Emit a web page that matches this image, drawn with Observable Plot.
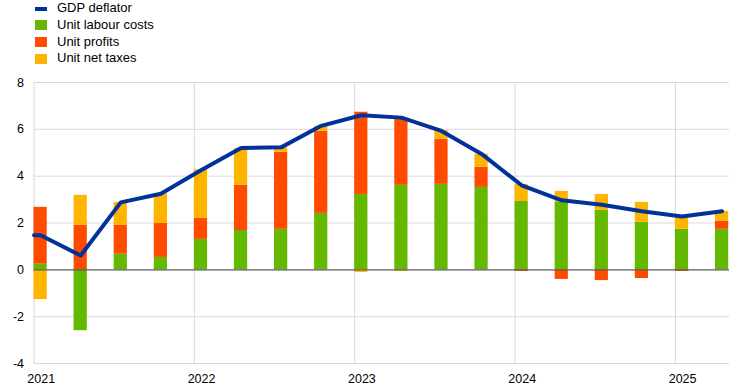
<!DOCTYPE html>
<html>
<head>
<meta charset="utf-8">
<script src="https://cdn.jsdelivr.net/npm/d3@7"></script>
<script src="https://cdn.jsdelivr.net/npm/@observablehq/plot@0.6"></script>
<style>
  body { margin: 0; background: #fff; font-family: "Liberation Sans", Arial, sans-serif; }
  #legend { height: 70px; position: relative; font-size: 13px; color: #000; }
  .item { position: absolute; left: 0; height: 16.7px; line-height: 16.7px; white-space: nowrap; }
  .sw { position: absolute; left: 35px; width: 12px; }
  .lbl { position: absolute; left: 57px; }
  #chart svg { display: block; }
</style>
</head>
<body>
<div id="legend"></div>
<div id="chart"></div>
<script>
const quarters = ["2021Q1","2021Q2","2021Q3","2021Q4","2022Q1","2022Q2","2022Q3","2022Q4",
  "2023Q1","2023Q2","2023Q3","2023Q4","2024Q1","2024Q2","2024Q3","2024Q4","2025Q1","2025Q2"];
const yearLabels = ["2021","2022","2023","2024","2025"];
const seriesNames = ["GDP deflator","Unit labour costs","Unit profits","Unit net taxes"];
const colors = ["#003299","#65b800","#ff4b00","#ffb400"];

const gdpDeflator = [1.48,0.61,2.88,3.25,4.25,5.2,5.23,6.15,6.6,6.5,5.93,4.95,3.61,2.97,2.78,2.5,2.28,2.5];
const unitLabourCosts = [0.24,-2.6,0.67,0.53,1.3,1.68,1.73,2.41,3.22,3.61,3.65,3.52,2.92,2.9,2.54,2.03,1.73,1.73];
const unitProfits = [2.43,1.9,1.23,1.45,0.9,1.93,3.29,3.51,3.51,2.81,1.93,0.86,-0.07,-0.41,-0.46,-0.37,-0.07,0.34];
const unitNetTaxes = [-1.27,1.28,0.98,1.27,2.07,1.57,0.18,0.21,-0.11,-0.07,0.37,0.56,0.73,0.45,0.68,0.85,0.55,0.43];

// legend
const legend = document.getElementById("legend");
seriesNames.forEach((name, i) => {
  const it = document.createElement("div");
  it.className = "item";
  it.style.top = (0.3 + i * 16.7) + "px";
  const sw = document.createElement("div");
  sw.className = "sw";
  const h = i === 0 ? 4 : 10;
  sw.style.height = h + "px";
  sw.style.top = ((16.7 - h) / 2) + "px";
  sw.style.background = colors[i];
  const lb = document.createElement("div");
  lb.className = "lbl";
  lb.textContent = name;
  it.appendChild(sw); it.appendChild(lb);
  legend.appendChild(it);
});

// table
const bars = [];
quarters.forEach((q, i) => {
  bars.push({t: i, series: seriesNames[1], value: unitLabourCosts[i]});
  bars.push({t: i, series: seriesNames[2], value: unitProfits[i]});
  bars.push({t: i, series: seriesNames[3], value: unitNetTaxes[i]});
});
// line starts at the left edge of the first quarter, then runs through quarter mid-points
const linePts = [{t: 0, value: gdpDeflator[0]}].concat(gdpDeflator.map((v, i) => ({t: i + 0.165, value: v})));
const yearPos = yearLabels.map((y, i) => ({t: i * 4, label: y}));

const chart = Plot.plot({
  width: 744,
  height: 320,
  marginTop: 12,
  marginBottom: 27,
  marginLeft: 33.5,
  marginRight: 15,
  style: {fontFamily: "'Liberation Sans', Arial, sans-serif", fontSize: "12.5px", color: "#000", background: "#fff"},
  x: {domain: [0, 17.35], axis: null},
  y: {domain: [-4, 8], axis: null},
  color: {domain: seriesNames, range: colors},
  marks: [
    Plot.ruleY([-4,-2,2,4,6,8], {stroke: "#d9d9d9", strokeWidth: 1}),
    Plot.ruleX(yearPos, {x: "t", y1: -4, y2: 8, stroke: "#d9d9d9", strokeWidth: 1}),
    Plot.rectY(bars, Plot.stackY({x1: "t", x2: d => d.t + 0.33, y: "value", fill: "series"})),
    Plot.ruleY([0], {stroke: "#595959", strokeWidth: 1.3}),
    Plot.line(linePts, {x: "t", y: "value", stroke: colors[0], strokeWidth: 4, strokeLinejoin: "round"}),
    Plot.axisY({ticks: [-4,-2,0,2,4,6,8], tickSize: 0, tickPadding: 10, tickFormat: d => String(d), label: null, fontSize: 12.5}),
    Plot.text(yearPos, {x: d => d.t + 0.18, y: -4, text: "label", dy: 15, fill: "#000", fontSize: 12.5})
  ]
});
document.getElementById("chart").appendChild(chart);
</script>
</body>
</html>
